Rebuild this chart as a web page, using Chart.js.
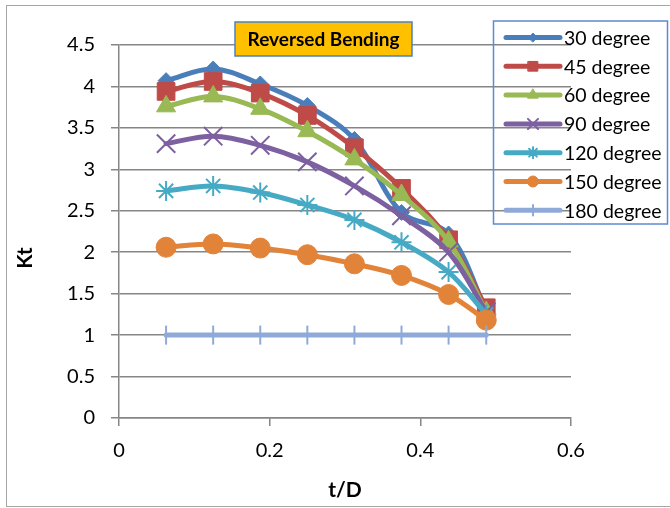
<!DOCTYPE html>
<html>
<head>
<meta charset="utf-8">
<title>Reversed Bending</title>
<script src="https://cdn.jsdelivr.net/npm/chart.js@4/dist/chart.umd.min.js"></script>
<style>
  html, body { margin: 0; padding: 0; background: #fff; }
  #grafico { display: block; }
</style>
</head>
<body>
<canvas id="grafico" width="670" height="508"></canvas>
<script>
const tD = [0.0625, 0.125, 0.1875, 0.25, 0.3125, 0.375, 0.4375, 0.4875];

const seriesNames = ['30 degree', '45 degree', '60 degree', '90 degree', '120 degree', '150 degree', '180 degree'];
const kt30 = [4.07, 4.21, 4.03, 3.77, 3.36, 2.48, 2.22, 1.30];
const kt45 = [3.94, 4.06, 3.92, 3.65, 3.26, 2.77, 2.15, 1.33];
const kt60 = [3.76, 3.88, 3.73, 3.46, 3.12, 2.69, 2.13, 1.28];
const kt90 = [3.31, 3.40, 3.29, 3.09, 2.80, 2.44, 2.00, 1.28];
const kt120 = [2.74, 2.80, 2.72, 2.57, 2.39, 2.12, 1.76, 1.25];
const kt150 = [2.06, 2.10, 2.05, 1.97, 1.86, 1.72, 1.49, 1.18];
const kt180 = [1, 1, 1, 1, 1, 1, 1, 1];

const xTicks = [0, 0.2, 0.4, 0.6];
const yTicks = [0, 0.5, 1, 1.5, 2, 2.5, 3, 3.5, 4, 4.5];

const chartTitle = 'Reversed Bending';
const xTitle = 't/D';
const yTitle = 'Kt';

document.addEventListener('DOMContentLoaded', function () {
  const valores = [kt30, kt45, kt60, kt90, kt120, kt150, kt180];
  const cores = ['#4A7EBB', '#BE4B48', '#98B954', '#7D60A0', '#46AAC5', '#E2833A', '#8FAAD8'];
  const marcadores = [
    { style: 'rectRot', radius: 8, border: 1, rot: 0 },
    { style: 'rect', radius: 12.5, border: 1, rot: 0 },
    { style: 'triangle', radius: 11, border: 1, rot: 0 },
    { style: 'crossRot', radius: 13, border: 2, rot: 0 },
    { style: 'star', radius: 10, border: 2, rot: 0 },
    { style: 'circle', radius: 10, border: 1, rot: 0 },
    { style: 'line', radius: 9.5, border: 2, rot: 90 }
  ];

  Chart.defaults.font.family = 'Lato, "Liberation Sans", sans-serif';
  Chart.defaults.color = '#000';

  const datasets = seriesNames.map((nome, i) => ({
    label: nome,
    data: tD.map((x, j) => ({ x: x, y: valores[i][j] })),
    borderColor: cores[i],
    backgroundColor: cores[i],
    borderWidth: 5,
    borderCapStyle: 'round',
    borderJoinStyle: 'round',
    tension: i === 6 ? 0 : 0.35,
    pointStyle: marcadores[i].style,
    pointRadius: marcadores[i].radius,
    pointRotation: marcadores[i].rot,
    pointBorderWidth: marcadores[i].border,
    pointBorderColor: cores[i],
    pointBackgroundColor: cores[i],
    order: 6 - i
  }));

  const moldura = {
    id: 'moldura',
    beforeDraw(chart) {
      const ctx = chart.ctx;
      ctx.save();
      ctx.strokeStyle = '#A6A6A6';
      ctx.lineWidth = 1;
      ctx.strokeRect(6.5, 5.5, 700, 501);
      ctx.restore();
    },
    afterDraw(chart) {
      const ctx = chart.ctx;
      const area = chart.chartArea;
      ctx.save();

      // caixa do titulo
      ctx.fillStyle = '#FFC000';
      ctx.fillRect(235, 22, 177, 34);
      ctx.strokeStyle = '#4F81BD';
      ctx.lineWidth = 1.5;
      ctx.strokeRect(235, 22, 177, 34);
      ctx.fillStyle = '#000';
      ctx.font = 'bold 19px Lato, sans-serif';
      ctx.textAlign = 'center';
      ctx.textBaseline = 'middle';
      ctx.fillText(chartTitle, 323.5, 40);

      // titulos dos eixos
      ctx.font = 'bold 21px Lato, sans-serif';
      ctx.fillText(xTitle, (area.left + area.right) / 2, 490);
      ctx.save();
      ctx.translate(25, 258);
      ctx.rotate(-Math.PI / 2);
      ctx.fillText(yTitle, 0, 0);
      ctx.restore();

      // legenda
      ctx.strokeStyle = '#5B8BD0';
      ctx.lineWidth = 1.5;
      ctx.strokeRect(493.5, 21, 174, 203);
      ctx.font = '19.5px Lato, sans-serif';
      ctx.textAlign = 'left';
      chart.data.datasets.forEach((ds, i) => {
        const y = 37.5 + i * 28.8;
        ctx.strokeStyle = ds.borderColor;
        ctx.lineWidth = 5;
        ctx.lineCap = 'round';
        ctx.beginPath();
        ctx.moveTo(506, y);
        ctx.lineTo(560, y);
        ctx.stroke();
        if (Chart.helpers && Chart.helpers.drawPoint) {
          ctx.fillStyle = ds.pointBackgroundColor;
          ctx.strokeStyle = ds.pointBorderColor;
          ctx.lineWidth = ds.pointBorderWidth;
          Chart.helpers.drawPoint(ctx, {
            pointStyle: ds.pointStyle,
            rotation: ds.pointRotation,
            radius: ds.pointRadius * 0.55,
            borderWidth: ds.pointBorderWidth
          }, 533, y);
        }
        ctx.fillStyle = '#000';
        ctx.fillText(ds.label, 564, y + 1);
      });
      ctx.restore();
    }
  };

  const graficoCtx = document.getElementById('grafico').getContext('2d');
  const grafico = new Chart(graficoCtx, {
    type: 'line',
    data: { datasets: datasets },
    plugins: [moldura],
    options: {
      responsive: false,
      animation: false,
      layout: { padding: { left: 0, top: 45, right: 99, bottom: 0 } },
      plugins: {
        legend: { display: false },
        title: { display: false },
        tooltip: { enabled: false }
      },
      scales: {
        x: {
          type: 'linear',
          min: xTicks[0],
          max: xTicks[xTicks.length - 1],
          afterFit: s => { s.height = 90; },
          afterBuildTicks: s => { s.ticks = xTicks.map(v => ({ value: v })); },
          ticks: {
            font: { size: 20 },
            padding: 13,
            callback: v => String(v)
          },
          grid: { drawOnChartArea: false, color: '#868686', lineWidth: 1.5, tickLength: 8 },
          border: { color: '#868686', width: 1.5 }
        },
        y: {
          min: yTicks[0],
          max: yTicks[yTicks.length - 1],
          afterFit: s => { s.width = 119; },
          afterBuildTicks: s => { s.ticks = yTicks.map(v => ({ value: v })); },
          ticks: {
            font: { size: 20 },
            padding: 16,
            callback: v => String(v)
          },
          grid: { color: '#868686', lineWidth: 1.5, tickLength: 8 },
          border: { color: '#868686', width: 1.5 }
        }
      }
    }
  });
});
</script>
</body>
</html>
